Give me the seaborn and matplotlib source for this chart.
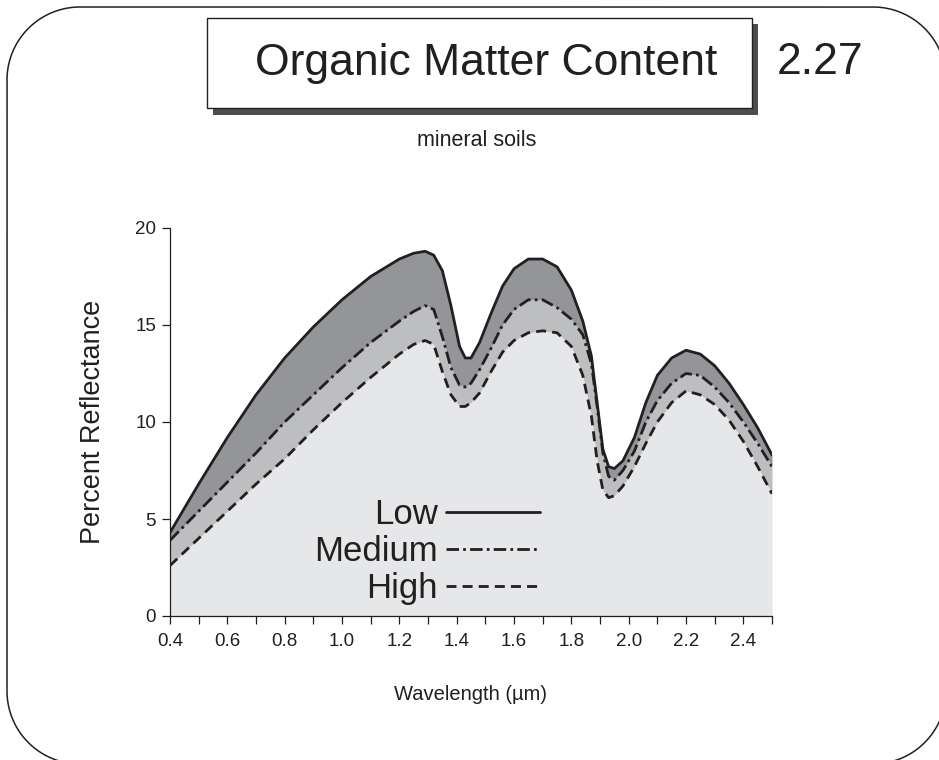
import matplotlib
matplotlib.use("Agg")
import matplotlib.pyplot as plt
from matplotlib.patches import Rectangle
import numpy as np
import pandas as pd
import seaborn as sns

# Spectral reflectance of mineral soils with different organic matter content
wavelength = [0.40, 0.50, 0.60, 0.70, 0.80, 0.90, 1.00, 1.10, 1.20, 1.25, 1.29,
              1.32, 1.35, 1.38, 1.41, 1.43, 1.45, 1.48, 1.52, 1.56, 1.60, 1.65,
              1.70, 1.75, 1.80, 1.84, 1.87, 1.89, 1.91, 1.93, 1.95, 1.98, 2.02,
              2.06, 2.10, 2.15, 2.20, 2.25, 2.30, 2.35, 2.40, 2.45, 2.50]
low = [4.3, 6.8, 9.2, 11.4, 13.3, 14.9, 16.3, 17.5, 18.4, 18.7, 18.8,
       18.6, 17.8, 16.0, 13.9, 13.3, 13.3, 14.1, 15.6, 17.0, 17.9, 18.4,
       18.4, 18.0, 16.8, 15.2, 13.4, 11.0, 8.6, 7.7, 7.6, 8.0, 9.2,
       11.0, 12.4, 13.3, 13.7, 13.5, 12.9, 12.0, 10.9, 9.7, 8.3]
medium = [3.9, 5.4, 6.9, 8.4, 10.0, 11.4, 12.8, 14.1, 15.2, 15.7, 16.0,
          15.8, 14.4, 12.8, 11.9, 11.8, 12.0, 12.7, 13.8, 15.0, 15.8, 16.3,
          16.3, 15.9, 15.3, 14.5, 13.0, 10.8, 8.4, 7.2, 7.0, 7.5, 8.5,
          10.0, 11.1, 12.0, 12.5, 12.4, 11.8, 11.0, 10.0, 8.9, 7.7]
high = [2.6, 4.0, 5.4, 6.8, 8.1, 9.6, 11.0, 12.3, 13.5, 14.0, 14.2,
        14.0, 12.6, 11.4, 10.8, 10.8, 11.0, 11.5, 12.6, 13.6, 14.2, 14.6,
        14.7, 14.6, 13.9, 12.4, 10.3, 8.0, 6.5, 6.1, 6.2, 6.7, 7.7,
        8.9, 10.0, 11.0, 11.6, 11.4, 10.9, 10.1, 9.0, 7.7, 6.3]
levels = ["Low", "Medium", "High"]
x_ticks = [0.4, 0.6, 0.8, 1.0, 1.2, 1.4, 1.6, 1.8, 2.0, 2.2, 2.4]
x_minor = [0.5, 0.7, 0.9, 1.1, 1.3, 1.5, 1.7, 1.9, 2.1, 2.3, 2.5]
y_ticks = [0, 5, 10, 15, 20]

INK = "#231f20"
sns.set_theme(style="ticks")
plt.rcParams["font.family"] = ["Liberation Sans", "DejaVu Sans"]
plt.rcParams["text.color"] = INK
plt.rcParams["axes.labelcolor"] = INK
plt.rcParams["xtick.color"] = INK
plt.rcParams["ytick.color"] = INK

df = pd.DataFrame({
    "Wavelength": wavelength * 3,
    "Reflectance": low + medium + high,
    "Content": [lv for lv in levels for _ in wavelength],
})

W, H = 939, 760
fig = plt.figure(figsize=(W / 100, H / 100), dpi=100)
fig.patch.set_facecolor("white")

# page layer in pixel units (y grows downward) for the frame and title box
page = fig.add_axes([0, 0, 1, 1], zorder=0)
page.set_xlim(0, W)
page.set_ylim(H, 0)
page.axis("off")

x0, y0, x1, y1, r = 7.0, 7.0, 946.0, 764.0, 73.0
t = np.linspace(0, np.pi / 2, 40)
fx = np.concatenate([
    [480.0],
    x1 - r + r * np.sin(t),            # top-right
    x1 - r + r * np.cos(t),            # bottom-right
    x0 + r - r * np.sin(t),            # bottom-left
    x0 + r - r * np.cos(t),            # top-left
    [480.0],
])
fy = np.concatenate([
    [y0],
    y0 + r - r * np.cos(t),
    y1 - r + r * np.sin(t),
    y1 - r + r * np.cos(t),
    y0 + r - r * np.sin(t),
    [y0],
])
page.plot(fx, fy, color=INK, lw=1.1, clip_on=False,
          solid_joinstyle="round", solid_capstyle="butt")

page.add_patch(Rectangle((213, 24), 545, 91, facecolor="#4d4d4f", edgecolor="none"))
page.add_patch(Rectangle((207, 18), 545, 90, facecolor="white", edgecolor=INK, lw=1.0))
page.text(486, 63, "Organic Matter Content", fontsize=32, ha="center", va="center")
page.text(820, 63, "2.27", fontsize=32, ha="center", va="center")
page.text(477, 140, "mineral soils", fontsize=15.5, ha="center", va="center")

ax = fig.add_axes([170 / W, 144 / H, 602 / W, 388 / H], zorder=1)

# shaded bands between the curves
ax.fill_between(wavelength, 0, high, color="#e6e7e8", lw=0, zorder=1)
ax.fill_between(wavelength, high, medium, color="#bcbec0", lw=0, zorder=1)
ax.fill_between(wavelength, medium, low, color="#939598", lw=0, zorder=1)

sns.lineplot(data=df, x="Wavelength", y="Reflectance", hue="Content",
             style="Content", hue_order=levels, style_order=levels,
             palette={lv: INK for lv in levels},
             dashes={"Low": "", "Medium": (4.5, 1.5, 1.0, 1.5), "High": (3.6, 2.2)},
             linewidth=2.0, sort=False, estimator=None, ax=ax, zorder=3)

ax.set_xlim(0.4, 2.5)
ax.set_ylim(0, 20)
ax.set_xticks(x_ticks)
ax.set_xticklabels([f"{v:.1f}" for v in x_ticks])
ax.set_xticks(x_minor, minor=True)
ax.set_yticks(y_ticks)
ax.set_facecolor("none")
for side in ("top", "right"):
    ax.spines[side].set_visible(False)
for side in ("left", "bottom"):
    ax.spines[side].set_color(INK)
    ax.spines[side].set_linewidth(0.9)
ax.tick_params(which="both", direction="out", length=6, width=0.9, labelsize=13.5)
ax.tick_params(axis="x", which="both", pad=6)
ax.tick_params(axis="y", pad=4)
ax.set_xlabel("Wavelength (µm)", fontsize=14.5, labelpad=25.5)
ax.set_ylabel("Percent Reflectance", fontsize=19.5, labelpad=21)

handles, labels = ax.get_legend_handles_labels()
pairs = [(h, l) for h, l in zip(handles, labels) if l in levels]
ax.legend([p[0] for p in pairs], [p[1] for p in pairs], markerfirst=False,
          frameon=False, fontsize=25, handlelength=2.7, handletextpad=0.25,
          labelspacing=0.11, loc="upper right", bbox_to_anchor=(0.615, 0.304),
          borderaxespad=0, borderpad=0)

fig.savefig("out.png", dpi=100)
